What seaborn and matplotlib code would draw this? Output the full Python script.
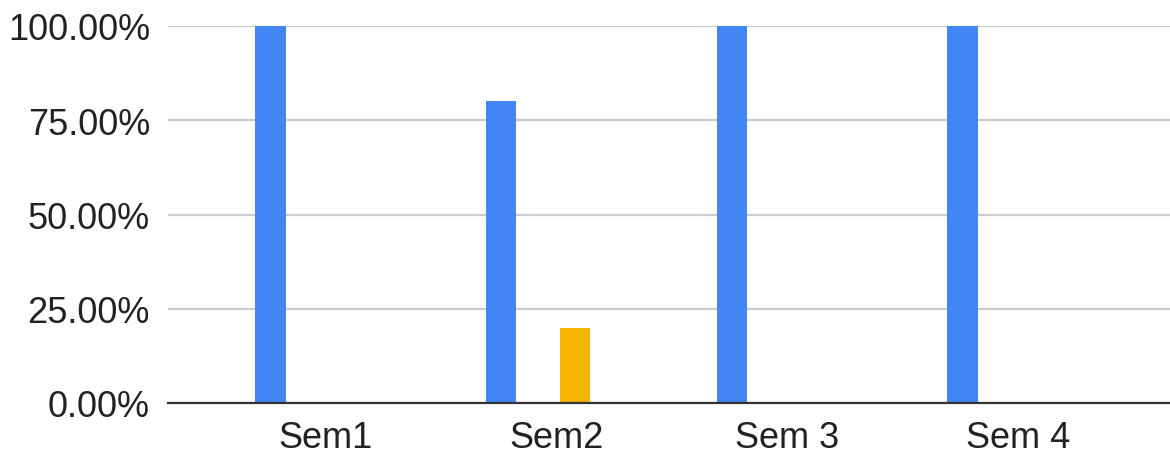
import matplotlib
matplotlib.use("Agg")
import matplotlib.pyplot as plt
import seaborn as sns
import pandas as pd
from matplotlib.ticker import FuncFormatter

categories = ["Sem1", "Sem2", "Sem 3", "Sem 4"]
series_names = ["Series 1", "Series 2", "Series 3", "Series 4"]
series1 = [1.00, 0.80, 1.00, 1.00]
series2 = [0.00, 0.00, 0.00, 0.00]
series3 = [0.00, 0.20, 0.00, 0.00]
series4 = [0.00, 0.00, 0.00, 0.00]
colors = ["#4285F4", "#DB4437", "#F4B400", "#0F9D58"]
y_ticks = [0.0, 0.25, 0.5, 0.75, 1.0]

rows = []
for name, vals in zip(series_names, [series1, series2, series3, series4]):
    for c, v in zip(categories, vals):
        rows.append({"cat": c, "series": name, "value": v})
df = pd.DataFrame(rows)

sns.set_theme(style="white")
plt.rcParams["font.family"] = ["Liberation Sans", "DejaVu Sans"]

fig = plt.figure(figsize=(11.7, 4.56), dpi=100)
ax = fig.add_axes([168 / 1170, 52 / 456, 1 - 168 / 1170, 377 / 456])

sns.barplot(data=df, x="cat", y="value", hue="series", order=categories,
            hue_order=series_names, palette=colors, saturation=1,
            width=0.64, gap=0.18, linewidth=0, legend=False, ax=ax)

ax.set_ylim(0, 1.0)
ax.set_xlim(-0.685, 3.66)
ax.set_yticks(y_ticks)
ax.yaxis.set_major_formatter(FuncFormatter(lambda v, p: f"{v*100:.2f}%"))
ax.grid(axis="y", color="#cccccc", linewidth=1.6)
ax.set_axisbelow(True)
for s in ["top", "right", "left"]:
    ax.spines[s].set_visible(False)
ax.spines["bottom"].set_color("#333333")
ax.spines["bottom"].set_linewidth(1.6)
ax.spines["bottom"].set_zorder(5)
ax.tick_params(axis="both", length=0, labelsize=26, colors="#222222")
ax.tick_params(axis="y", pad=13)
ax.tick_params(axis="x", pad=12)
ax.set_xlabel("")
ax.set_ylabel("")

fig.savefig("out.png", dpi=100)
